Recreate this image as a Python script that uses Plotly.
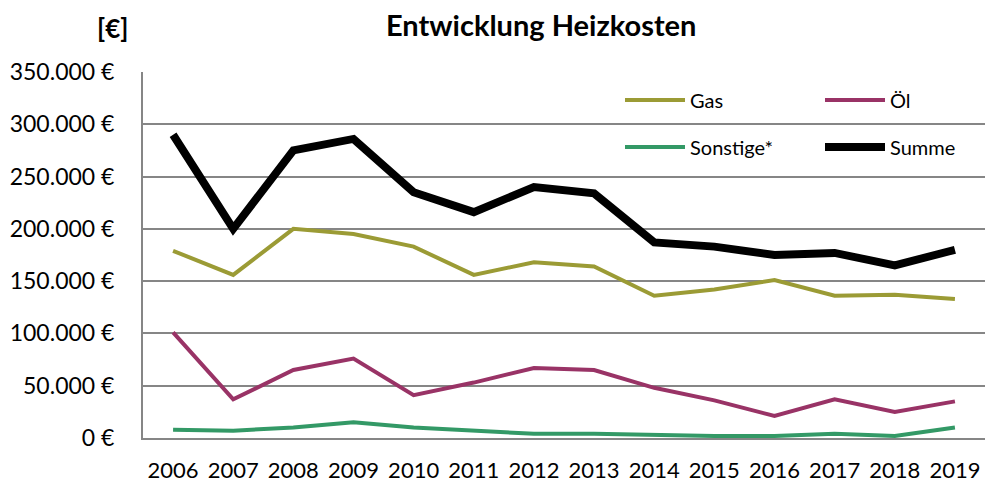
import plotly.graph_objects as go

years = ["2006", "2007", "2008", "2009", "2010", "2011", "2012",
         "2013", "2014", "2015", "2016", "2017", "2018", "2019"]
gas = [179000, 156000, 200000, 195000, 183000, 156000, 168000,
       164000, 136000, 142000, 151000, 136000, 137000, 133000]
oel = [101000, 37000, 65000, 76000, 41000, 53000, 67000,
       65000, 48000, 36000, 21000, 37000, 25000, 35000]
sonstige = [8000, 7000, 10000, 15000, 10000, 7000, 4000,
            4000, 3000, 2000, 2000, 4000, 2000, 10000]
summe = [290000, 200000, 275000, 286000, 235000, 216000, 240000,
         234000, 187000, 183000, 175000, 177000, 165000, 180000]
y_ticks = [0, 50000, 100000, 150000, 200000, 250000, 300000, 350000]
y_ticktext = [f"{v:,}".replace(",", ".") + " €" for v in y_ticks]

FONT = "Lato, 'Noto Sans', sans-serif"

fig = go.Figure()
fig.add_trace(go.Scatter(x=years, y=gas, name="Gas", mode="lines",
                         line=dict(color="#9b9b35", width=4), legend="legend"))
fig.add_trace(go.Scatter(x=years, y=oel, name="Öl", mode="lines",
                         line=dict(color="#993366", width=4), legend="legend2"))
fig.add_trace(go.Scatter(x=years, y=sonstige, name="Sonstige*", mode="lines",
                         line=dict(color="#339966", width=4), legend="legend3"))
fig.add_trace(go.Scatter(x=years, y=summe, name="Summe", mode="lines",
                         line=dict(color="#000000", width=8), legend="legend4"))

legend_common = dict(
    orientation="h", xanchor="left", yanchor="middle",
    bgcolor="rgba(0,0,0,0)", borderwidth=0,
    font=dict(family=FONT, size=20, color="#000000"),
    itemwidth=60,
)

W0, PW, B0, PH = 143, 842, 438, 366
def px(xp):
    return (xp - W0) / PW
def py(yp):
    return (B0 - yp) / PH

fig.update_layout(
    width=987, height=483,
    margin=dict(l=143, r=2, t=72, b=45, autoexpand=False),
    paper_bgcolor="white", plot_bgcolor="white",
    font=dict(family=FONT, size=23, color="#000000"),
    showlegend=True,
    legend=dict(x=px(620), y=py(100), **legend_common),
    legend2=dict(x=px(820), y=py(100), **legend_common),
    legend3=dict(x=px(620), y=py(147), **legend_common),
    legend4=dict(x=px(820), y=py(147), **legend_common),
    xaxis=dict(
        type="category", range=[-0.5, 13.5],
        showgrid=False, showline=True, linecolor="#868686", linewidth=2,
        ticks="", ticklabelstandoff=12, tickangle=0,
        tickfont=dict(family=FONT, size=22, color="#000000"),
    ),
    yaxis=dict(
        range=[0, 350000], tickvals=y_ticks, ticktext=y_ticktext,
        showgrid=True, gridcolor="#868686", gridwidth=1.5,
        showline=True, linecolor="#868686", linewidth=2,
        zeroline=False, ticks="", ticklabelstandoff=22,
        tickfont=dict(family=FONT, size=23, color="#000000"),
    ),
    annotations=[
        dict(text="<b>Entwicklung Heizkosten</b>", xref="paper", yref="paper",
             x=px(541), y=py(24), xanchor="center", yanchor="middle",
             showarrow=False, font=dict(family=FONT, size=29, color="#000000")),
        dict(text="<b>[€]</b>", xref="paper", yref="paper",
             x=px(112), y=py(28), xanchor="center", yanchor="middle",
             showarrow=False, font=dict(family=FONT, size=26, color="#000000")),
    ],
)

fig.write_html("out.html", config={"displayModeBar": False},
               post_script="document.body.style.margin='0';")
